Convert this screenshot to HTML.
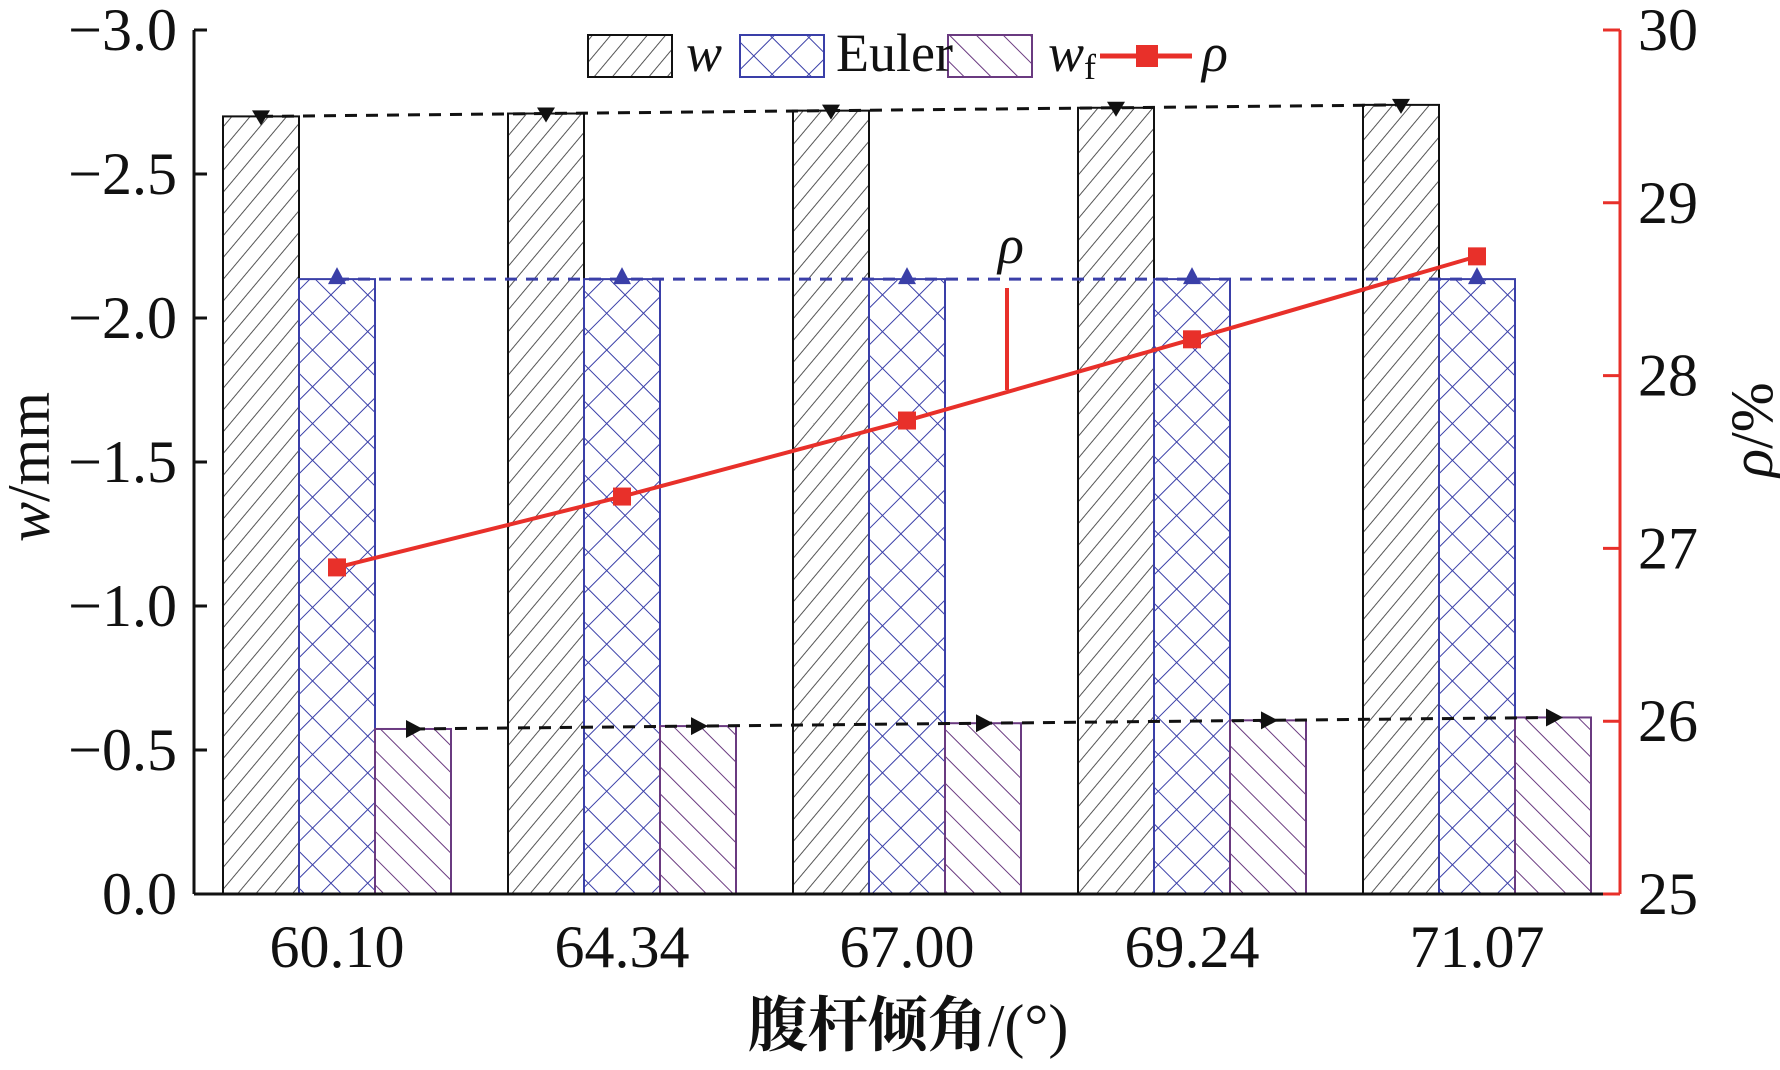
<!DOCTYPE html>
<html><head><meta charset="utf-8"><style>
html,body{margin:0;padding:0;background:#fff;}
svg{display:block;}
text{font-family:"Liberation Serif","Noto Serif CJK SC",serif;fill:#111;}
</style></head><body>
<svg id="chart" width="1780" height="1070" viewBox="0 0 1780 1070" xmlns="http://www.w3.org/2000/svg">
<defs>
<pattern id="pw" patternUnits="userSpaceOnUse" width="14" height="14" patternTransform="rotate(40)"><line x1="0" y1="0" x2="0" y2="14" stroke="#555" stroke-width="2"/></pattern>
<pattern id="pe" patternUnits="userSpaceOnUse" width="26" height="26" patternTransform="rotate(45)"><line x1="0" y1="0" x2="0" y2="26" stroke="#3a3fa8" stroke-width="2"/><line x1="0" y1="0" x2="26" y2="0" stroke="#3a3fa8" stroke-width="2"/></pattern>
<pattern id="pf" patternUnits="userSpaceOnUse" width="19" height="19" patternTransform="rotate(-45)"><line x1="0" y1="0" x2="0" y2="19" stroke="#6a3a80" stroke-width="2"/></pattern>
</defs>
<g id="plot"></g>
</svg>
<script>
const categories = ["60.10","64.34","67.00","69.24","71.07"];
const wValues = [-2.70,-2.71,-2.72,-2.73,-2.74];
const eulerValues = [-2.135,-2.135,-2.135,-2.135,-2.135];
const wfValues = [-0.573,-0.583,-0.593,-0.603,-0.613];
const rhoValues = [26.89,27.30,27.74,28.21,28.69];
const leftTicks = ["0.0","−0.5","−1.0","−1.5","−2.0","−2.5","−3.0"];
const leftTickVals = [0,-0.5,-1,-1.5,-2,-2.5,-3];
const rightTicks = [25,26,27,28,29,30];

const NS="http://www.w3.org/2000/svg";
const g=document.getElementById('plot');
function mk(tag,attrs,parent){const e=document.createElementNS(NS,tag);for(const k in attrs)e.setAttribute(k,attrs[k]);(parent||g).appendChild(e);return e;}
const X0=194,X1=1620,Y0=894,Y1=30;
function yL(v){return Y0+(v/3)*(Y0-Y1);}
function yR(v){return Y0-(v-25)/5*(Y0-Y1);}
const groupStart=223,groupStep=285,barW=76;
function xBar(i,s){return groupStart+i*groupStep+s*barW;}

const series=[[wValues,'url(#pw)','#111','bar-w'],[eulerValues,'url(#pe)','#3a3fa8','bar-euler'],[wfValues,'url(#pf)','#6a3a80','bar-wf']];
series.forEach((s,si)=>{
  s[0].forEach((v,i)=>{
    const r=mk('rect',{x:xBar(i,si),y:yL(v),width:barW,height:Y0-yL(v),fill:s[1],stroke:s[2],'stroke-width':2});
    
    
  });
});
function dashLine(vals,si,color,name){
  const pts=vals.map((v,i)=>(xBar(i,si)+barW/2)+','+yL(v)).join(' ');
  const l=mk('polyline',{points:pts,fill:'none',stroke:color,'stroke-width':3,'stroke-dasharray':'12 9'});
  
  
}
dashLine(wValues,0,'#111','w-trend-line');
dashLine(eulerValues,1,'#3a3fa8','euler-trend-line');
dashLine(wfValues,2,'#111','wf-trend-line');
wValues.forEach((v,i)=>{const cx=xBar(i,0)+barW/2,cy=yL(v);
  const m=mk('polygon',{points:`${cx-9},${cy-6} ${cx+9},${cy-6} ${cx},${cy+9}`,fill:'#111'});
  
  });
eulerValues.forEach((v,i)=>{const cx=xBar(i,1)+barW/2,cy=yL(v);
  const m=mk('polygon',{points:`${cx-9},${cy+5} ${cx+9},${cy+5} ${cx},${cy-12}`,fill:'#3a3fa8'});
  
  });
wfValues.forEach((v,i)=>{const cx=xBar(i,2)+barW/2,cy=yL(v);
  const m=mk('polygon',{points:`${cx-7},${cy-9} ${cx-7},${cy+9} ${cx+10},${cy}`,fill:'#111'});
  
  });

const rpts=rhoValues.map((v,i)=>(xBar(i,1)+barW/2)+','+yR(v)).join(' ');
const rl=mk('polyline',{points:rpts,fill:'none',stroke:'#e8302a','stroke-width':4});


rhoValues.forEach((v,i)=>{const cx=xBar(i,1)+barW/2,cy=yR(v);
  const m=mk('rect',{x:cx-9,y:cy-9,width:18,height:18,fill:'#e8302a'});
  
  });
const an=mk('line',{x1:1007,y1:288,x2:1007,y2:390,stroke:'#e8302a','stroke-width':4});


const at=mk('text',{x:1011,y:263,'font-size':54,'font-style':'italic','text-anchor':'middle'});at.textContent='ρ';



const la=mk('line',{x1:X0,y1:Y1,x2:X0,y2:Y0,stroke:'#111','stroke-width':3});


const ba=mk('line',{x1:X0,y1:Y0,x2:X1,y2:Y0,stroke:'#111','stroke-width':3});


const ra=mk('line',{x1:X1,y1:Y1,x2:X1,y2:Y0,stroke:'#e8302a','stroke-width':3});


leftTickVals.forEach((v,i)=>{const y=yL(v);
  const t=mk('line',{x1:X0,y1:y,x2:X0+13,y2:y,stroke:'#111','stroke-width':3});
  
  
  const tx=mk('text',{x:177,y:y+20,'font-size':60,'text-anchor':'end'});tx.textContent=leftTicks[i];
  
  });
rightTicks.forEach(v=>{const y=yR(v);
  const t=mk('line',{x1:X1-17,y1:y,x2:X1,y2:y,stroke:'#e8302a','stroke-width':3});
  
  
  const tx=mk('text',{x:1638,y:y+20,'font-size':60}); tx.textContent=v;
  
  });
categories.forEach((c,i)=>{const cx=xBar(i,1)+barW/2;
  const tx=mk('text',{x:cx,y:967,'font-size':60,'text-anchor':'middle'});tx.textContent=c;
  
  });

const yt=mk('text',{x:0,y:0,'font-size':60,'text-anchor':'middle',transform:'translate(49,467) rotate(-90)'});
yt.innerHTML='<tspan font-style="italic">w</tspan>/mm';


const rt=mk('text',{x:0,y:0,'font-size':60,'text-anchor':'middle',transform:'translate(1772,430) rotate(-90)'});
rt.innerHTML='<tspan font-style="italic">ρ</tspan>/%';


const xt=mk('text',{x:908,y:1046,'font-size':60,'text-anchor':'middle','font-weight':'bold'});
xt.innerHTML='<tspan font-family="Noto Serif CJK SC, serif">腹杆倾角</tspan><tspan font-weight="normal">/(°)</tspan>';



const lg=mk('g',{});


[[588,'url(#pw)','#111','legend-w'],[740,'url(#pe)','#3a3fa8','legend-euler'],[948,'url(#pf)','#6a3a80','legend-wf']].forEach(l=>{
  const r=mk('rect',{x:l[0],y:35,width:84,height:42,fill:l[1],stroke:l[2],'stroke-width':2},lg);
  
  });
const l1=mk('text',{x:686,y:71,'font-size':54,'font-style':'italic'},lg);l1.textContent='w';


const l2=mk('text',{x:836,y:71,'font-size':54},lg);l2.textContent='Euler';


const l3=mk('text',{x:1048,y:71,'font-size':54,'font-style':'italic'},lg);l3.innerHTML='w<tspan font-style="normal" font-size="36" dy="8">f</tspan>';


const ll=mk('line',{x1:1100,y1:56,x2:1192,y2:56,stroke:'#e8302a','stroke-width':5},lg);


const lm=mk('rect',{x:1136,y:45,width:22,height:22,fill:'#e8302a'},lg);


const l4=mk('text',{x:1202,y:71,'font-size':54,'font-style':'italic'},lg);l4.textContent='ρ';


</script>
</body></html>
